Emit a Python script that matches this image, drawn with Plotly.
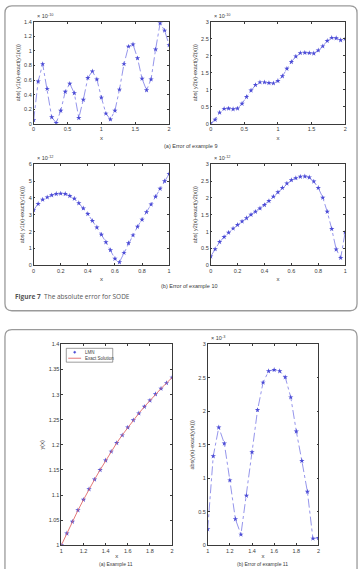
import plotly.graph_objects as go

W, H = 362, 570

# ---------------- data ----------------
x_ex9 = [0, 0.0667, 0.1333, 0.2, 0.2667, 0.3333, 0.4, 0.4667, 0.5333, 0.6, 0.6667,
         0.7333, 0.8, 0.8667, 0.9333, 1.0, 1.0667, 1.1333, 1.2, 1.2667, 1.3333,
         1.4, 1.4667, 1.5333, 1.6, 1.6667, 1.7333, 1.8, 1.8667, 1.9333, 2.0]
err9_y1 = [0.05, 0.58, 0.82, 0.48, 0.09, 0.01, 0.18, 0.44, 0.55, 0.42, 0.08,
           0.33, 0.63, 0.72, 0.61, 0.36, 0.14, 0.06, 0.18, 0.47, 0.82,
           1.06, 1.09, 0.90, 0.62, 0.46, 0.61, 1.02, 1.38, 1.28, 1.08]   # x 1e-10
err9_y2 = [0.01, 0.12, 0.33, 0.44, 0.45, 0.43, 0.45, 0.59, 0.79, 0.98, 1.14,
           1.22, 1.22, 1.20, 1.19, 1.26, 1.40, 1.62, 1.82, 1.98, 2.08,
           2.09, 2.08, 2.07, 2.16, 2.28, 2.44, 2.53, 2.52, 2.46, 2.50]   # x 1e-10

x_ex10 = [0, 0.0333, 0.0667, 0.1, 0.1333, 0.1667, 0.2, 0.2333, 0.2667, 0.3, 0.3333,
          0.3667, 0.4, 0.4333, 0.4667, 0.5, 0.5333, 0.5667, 0.6, 0.6333, 0.6667,
          0.7, 0.7333, 0.7667, 0.8, 0.8333, 0.8667, 0.9, 0.9333, 0.9667, 1.0]
err10_y1 = [3.28, 3.65, 3.90, 4.04, 4.16, 4.24, 4.26, 4.24, 4.12, 3.96, 3.69,
            3.38, 3.05, 2.64, 2.25, 1.82, 1.37, 0.90, 0.39, 0.18, 0.74,
            1.31, 1.78, 2.29, 2.71, 3.16, 3.61, 4.08, 4.55, 5.00, 5.43]  # x 1e-12
err10_y2 = [0.26, 0.48, 0.69, 0.84, 0.97, 1.09, 1.20, 1.30, 1.40, 1.50, 1.59,
            1.69, 1.79, 1.91, 2.04, 2.17, 2.30, 2.43, 2.53, 2.59, 2.63,
            2.64, 2.61, 2.49, 2.30, 2.01, 1.59, 1.08, 0.47, 0.22, 0.98]  # x 1e-12

x_ex11 = [1.0, 1.05, 1.1, 1.15, 1.2, 1.25, 1.3, 1.35, 1.4, 1.45, 1.5,
          1.55, 1.6, 1.65, 1.7, 1.75, 1.8, 1.85, 1.9, 1.95, 2.0]
lmm_11 = [1.0, 1.0236, 1.047, 1.0697, 1.0906, 1.1117, 1.131, 1.150, 1.169, 1.1866, 1.2036,
          1.219, 1.2345, 1.249, 1.2627, 1.2759, 1.2883, 1.3009, 1.312, 1.323, 1.334]
exact_11 = [1.0, 1.0236, 1.0468, 1.0695, 1.0906, 1.1115, 1.1310, 1.1500, 1.1688, 1.1866, 1.2036,
            1.2195, 1.2345, 1.2490, 1.2627, 1.2759, 1.2883, 1.3005, 1.3120, 1.3230, 1.3340]
err11 = [0.24, 1.33, 1.76, 1.52, 0.97, 0.39, 0.16, 0.74, 1.39, 2.02, 2.43,
         2.60, 2.62, 2.60, 2.51, 2.21, 1.70, 1.26, 0.80, 0.10, 0.11]    # x 1e-3

ticks_y11 = [1.0, 1.05, 1.1, 1.15, 1.2, 1.25, 1.3, 1.35, 1.4]
ticklbl_y11 = ["1", "1.05", "1.1", "1.15", "1.2", "1.25", "1.3", "1.35", "1.4"]
legend_names = ["LMN", "Exact Solution"]

# ---------------- helpers ----------------
def X(p):
    return p / W

def Y(p):
    return 1 - p / H

BLUE = "#4c4cd6"
LBLUE = "#7a7ae6"
RED = "#e06a6a"
AX = "#3a3a3a"
FONT = "Liberation Sans"

fig = go.Figure()

def err_trace(x, y, ax):
    return go.Scatter(
        x=x, y=y, xaxis="x" + ax, yaxis="y" + ax, mode="lines+markers",
        line=dict(color=LBLUE, width=0.8, dash="dashdot"),
        marker=dict(symbol="star", size=4, color=BLUE, line=dict(width=0)),
        showlegend=False, hoverinfo="skip")

fig.add_trace(err_trace(x_ex9, err9_y1, "1"))
fig.add_trace(err_trace(x_ex9, err9_y2, "2"))
fig.add_trace(err_trace(x_ex10, err10_y1, "3"))
fig.add_trace(err_trace(x_ex10, err10_y2, "4"))
fig.add_trace(go.Scatter(
    x=x_ex11, y=lmm_11, xaxis="x5", yaxis="y5", mode="markers", name=legend_names[0],
    marker=dict(symbol="star", size=4, color=BLUE, line=dict(width=0)),
    showlegend=False))
fig.add_trace(go.Scatter(
    x=x_ex11, y=exact_11, xaxis="x5", yaxis="y5", mode="lines", name=legend_names[1],
    line=dict(color=RED, width=0.9), showlegend=False))
fig.add_trace(err_trace(x_ex11, err11, "6"))

# plot areas in pixels: (left, right, top, bottom)
boxes = {
    "1": (32, 169, 19, 122),
    "2": (211, 347, 19, 122),
    "3": (32, 169, 163, 265),
    "4": (211, 347, 163, 265),
    "5": (60, 172, 345, 548),
    "6": (208, 320, 345, 548),
}

def axis_common():
    return dict(showline=True, linecolor=AX, linewidth=0.6, mirror="ticks",
                ticks="inside", ticklen=2, tickwidth=0.5, tickcolor=AX,
                showgrid=False, zeroline=False,
                tickfont=dict(size=5.5, color=AX, family=FONT))

xr = {"1": [0, 2], "2": [0, 2], "3": [0, 1], "4": [0, 1], "5": [1, 2], "6": [1, 2]}
xd = {"1": 0.5, "2": 0.5, "3": 0.2, "4": 0.2, "5": 0.2, "6": 0.2}
yr = {"1": [0, 1.4], "2": [0, 3], "3": [0, 6], "4": [0, 3], "5": [1, 1.4], "6": [0, 3]}
yd = {"1": 0.2, "2": 0.5, "3": 1, "4": 0.5, "5": 0.05, "6": 0.5}
ylab = {"1": "abs( y1(x)-exact(y1(x)))", "2": "abs( y2(x)-exact(y2(x)))",
        "3": "abs( y1(x)-exact(y1(x)))", "4": "abs( y2(x)-exact(y2(x)))",
        "5": "y(x)", "6": "abs(y(x)-exact(y(x)))"}

lay = {}
for k, (l, r, t, b) in boxes.items():
    xa = axis_common()
    xa.update(domain=[X(l), X(r)], range=xr[k], dtick=xd[k], tick0=xr[k][0],
              anchor="y" + k,
              title=dict(text="x", font=dict(size=6, color=AX, family=FONT),
                         standoff=1 if k in ("5", "6") else 4))
    ya = axis_common()
    ya.update(domain=[Y(b), Y(t)], range=yr[k], dtick=yd[k], tick0=yr[k][0],
              anchor="x" + k,
              title=dict(text=ylab[k], font=dict(size=5.5, color=AX, family=FONT), standoff=3))
    if k == "5":
        ya.update(tickvals=ticks_y11, ticktext=ticklbl_y11)
    name = "" if k == "1" else k
    lay["xaxis" + name] = xa
    lay["yaxis" + name] = ya

fig.update_layout(**lay)

# exponent labels
exps = [("1", "-10"), ("2", "-10"), ("3", "-12"), ("4", "-12"), ("6", "-3")]
ann = []
for k, e in exps:
    l, r, t, b = boxes[k]
    ann.append(dict(x=X(l + 1), y=Y(t - 1), xref="paper", yref="paper",
                    xanchor="left", yanchor="bottom", showarrow=False,
                    text="× 10<sup>" + e + "</sup>",
                    font=dict(size=5.5, color=AX, family=FONT)))

caps = [("(a) Error of example 9", 191, 145, 5.5),
        ("(b) Error of example 10", 190, 286, 5.5),
        ("(a) Example 11", 115, 566.5, 5),
        ("(b) Error of example 11", 263, 566.5, 5)]
for txt, cx, cy, fs in caps:
    ann.append(dict(x=X(cx), y=Y(cy), xref="paper", yref="paper",
                    xanchor="center", yanchor="middle", showarrow=False, text=txt,
                    font=dict(size=fs, color=AX, family=FONT)))

ann.append(dict(x=X(11), y=Y(297), xref="paper", yref="paper", xanchor="left",
                yanchor="middle", showarrow=False,
                text="<b>Figure 7</b>  The absolute error for SODE",
                font=dict(size=6.5, color="#555", family="Open Sans")))

# manual compact legend (plot 5)
ann.append(dict(x=X(82), y=Y(353), xref="paper", yref="paper", xanchor="left",
                yanchor="middle", showarrow=False, text=legend_names[0],
                font=dict(size=4.5, color=AX, family=FONT)))
ann.append(dict(x=X(82), y=Y(359), xref="paper", yref="paper", xanchor="left",
                yanchor="middle", showarrow=False, text=legend_names[1],
                font=dict(size=4.5, color=AX, family=FONT)))

# frames
def rframe(x0, y0, x1, y1, r, open_bottom=False):
    if open_bottom:
        p = (f"M {X(x0)},{Y(y1)} L {X(x0)},{Y(y0 + r)} Q {X(x0)},{Y(y0)} {X(x0 + r)},{Y(y0)} "
             f"L {X(x1 - r)},{Y(y0)} Q {X(x1)},{Y(y0)} {X(x1)},{Y(y0 + r)} L {X(x1)},{Y(y1)}")
    else:
        p = (f"M {X(x0 + r)},{Y(y0)} L {X(x1 - r)},{Y(y0)} Q {X(x1)},{Y(y0)} {X(x1)},{Y(y0 + r)} "
             f"L {X(x1)},{Y(y1 - r)} Q {X(x1)},{Y(y1)} {X(x1 - r)},{Y(y1)} "
             f"L {X(x0 + r)},{Y(y1)} Q {X(x0)},{Y(y1)} {X(x0)},{Y(y1 - r)} "
             f"L {X(x0)},{Y(y0 + r)} Q {X(x0)},{Y(y0)} {X(x0 + r)},{Y(y0)} Z")
    return dict(type="path", path=p, xref="paper", yref="paper",
                line=dict(color="#9a9a9a", width=1.3), layer="below")

shapes = [rframe(3, 3, 359, 311, 7), rframe(3, 330, 359, 572, 7, open_bottom=True)]
# legend box, line sample, marker sample
shapes.append(dict(type="rect", xref="paper", yref="paper", x0=X(65), x1=X(112),
                   y0=Y(363), y1=Y(349), line=dict(color=AX, width=0.5),
                   fillcolor="white", layer="above"))
shapes.append(dict(type="line", xref="paper", yref="paper", x0=X(67), x1=X(80),
                   y0=Y(359), y1=Y(359), line=dict(color=RED, width=0.9), layer="above"))
shapes.append(dict(type="circle", xref="paper", yref="paper", x0=X(72.5), x1=X(74.5),
                   y0=Y(354), y1=Y(352), line=dict(color=BLUE, width=0.5),
                   fillcolor=BLUE, layer="above"))

fig.update_layout(
    width=W, height=H, margin=dict(l=0, r=0, t=0, b=0),
    paper_bgcolor="white", plot_bgcolor="white",
    annotations=ann, shapes=shapes, showlegend=False,
    font=dict(family=FONT, color=AX),
)

fig.write_html("out.html")
